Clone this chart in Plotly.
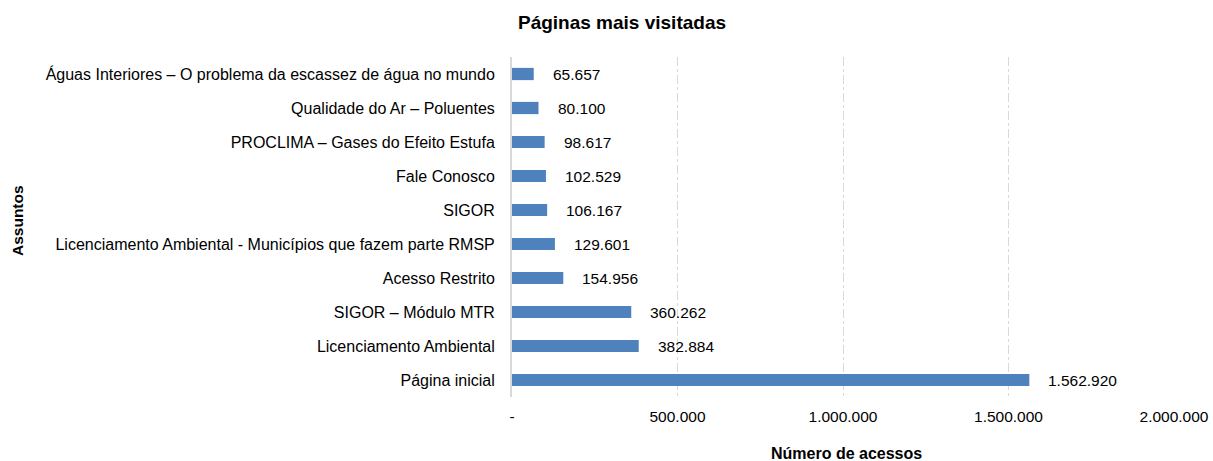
import plotly.graph_objects as go

categories = [
    "Página inicial",
    "Licenciamento Ambiental",
    "SIGOR – Módulo MTR",
    "Acesso Restrito",
    "Licenciamento Ambiental - Municípios que fazem parte RMSP",
    "SIGOR",
    "Fale Conosco",
    "PROCLIMA – Gases do Efeito Estufa",
    "Qualidade do Ar – Poluentes",
    "Águas Interiores – O problema da escassez de água no mundo",
]
values = [1562920, 382884, 360262, 154956, 129601, 106167, 102529, 98617, 80100, 65657]
tick_vals = [0, 500000, 1000000, 1500000, 2000000]
tick_text = ["-", "500.000", "1.000.000", "1.500.000", "2.000.000"]

def fmt(v):
    return f"{v:,}".replace(",", ".")

FONT = "Liberation Sans, Arial, sans-serif"

W, H = 1213, 461
L, R, T, B = 512, 39, 57, 64
PW, PH = W - L - R, H - T - B

fig = go.Figure()
fig.add_trace(go.Bar(
    y=categories, x=values, orientation="h",
    marker=dict(color="#4f81bd", line=dict(width=0)),
    width=0.36,
    hoverinfo="x+y",
))

for c, v in zip(categories, values):
    fig.add_annotation(x=v, y=c, text=fmt(v), showarrow=False,
                       xanchor="left", xshift=17, yanchor="middle",
                       font=dict(family=FONT, size=15.5, color="#000000"))

fig.add_annotation(text="<b>Assuntos</b>", textangle=-90, xref="paper", yref="paper",
                   x=-(L - 17) / PW, y=(H - B - 220) / PH, showarrow=False,
                   xanchor="center", yanchor="middle",
                   font=dict(family=FONT, size=15.5, color="#000000"))
fig.add_annotation(text="<b>Número de acessos</b>", xref="paper", yref="paper",
                   x=(846 - L) / PW, y=-(453 - (H - B)) / PH, showarrow=False,
                   xanchor="center", yanchor="middle",
                   font=dict(family=FONT, size=16, color="#000000"))

fig.update_layout(
    width=W, height=H,
    margin=dict(l=L, r=R, t=T, b=B, autoexpand=False),
    paper_bgcolor="white", plot_bgcolor="white",
    title=dict(text="<b>Páginas mais visitadas</b>", x=622 / W, xanchor="center",
               y=1 - 22 / H, yanchor="middle", xref="container", yref="container",
               automargin=False,
               font=dict(family=FONT, size=19, color="#000000")),
    font=dict(family=FONT, size=15, color="#000000"),
    showlegend=False,
    bargap=0.64,
)
fig.update_xaxes(
    range=[0, 2000000], tickvals=tick_vals, ticktext=tick_text,
    showgrid=True, gridcolor="#d9d9d9", griddash="dashdot", gridwidth=1,
    zeroline=False, showline=False, ticks="", ticklabelstandoff=8,
    automargin=False,
    tickfont=dict(family=FONT, size=15.5, color="#000000"),
)
fig.update_yaxes(
    categoryorder="array", categoryarray=categories,
    showline=True, linecolor="#d9d9d9", linewidth=2,
    showgrid=False, ticks="", ticklabelstandoff=12,
    automargin=False,
    tickfont=dict(family=FONT, size=16, color="#000000"),
)

fig.write_html(
    "out.html",
    config={"displayModeBar": False},
    post_script="document.body.style.margin='0';document.body.style.overflow='hidden';",
)
